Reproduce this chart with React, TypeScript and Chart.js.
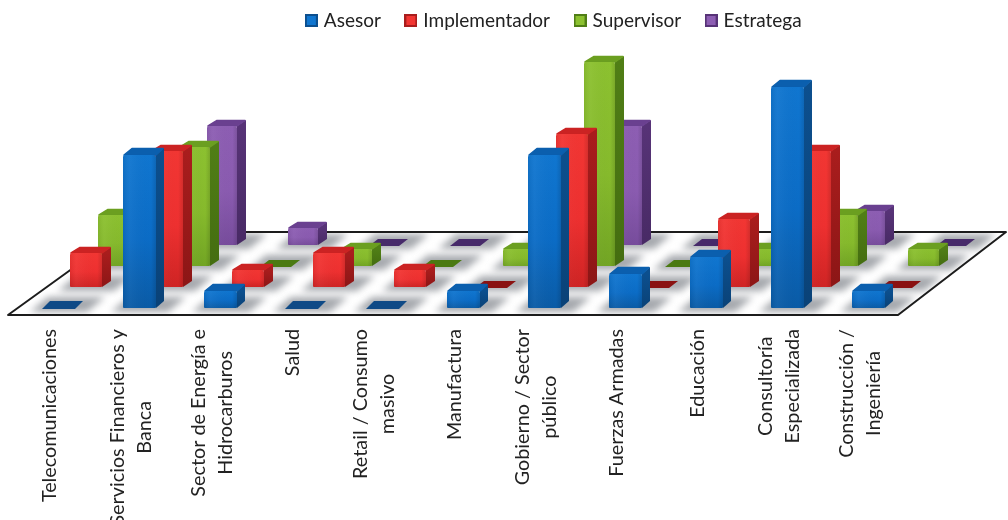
import React, { useEffect, useRef } from "react";
import { Chart, registerables } from "chart.js";

Chart.register(...registerables);

// Sector names, broken into the lines shown under the floor
const categories = [
  ["Telecomunicaciones"],
  ["Servicios Financieros y", "Banca"],
  ["Sector de Energía e", "Hidrocarburos"],
  ["Salud"],
  ["Retail / Consumo", "masivo"],
  ["Manufactura"],
  ["Gobierno / Sector", "público"],
  ["Fuerzas Armadas"],
  ["Educación"],
  ["Consultoría", "Especializada"],
  ["Construcción /", "Ingeniería"],
];

const seriesNames = ["Asesor", "Implementador", "Supervisor", "Estratega"];

const asesor = [0, 9, 1, 0, 0, 1, 9, 2, 3, 13, 1];
const implementador = [2, 8, 1, 2, 1, 0, 9, 0, 4, 8, 0];
const supervisor = [3, 7, 0, 1, 0, 1, 12, 0, 1, 3, 1];
const estratega = [0, 7, 1, 0, 0, 0, 7, 0, 0, 2, 0];

const seriesValues = [asesor, implementador, supervisor, estratega];

// Face shades for each series, front row first
const palette = [
  { light: "#1076d0", mid: "#0b6cc6", dark: "#0a5ba6", side: "#0c4f8e", sideDark: "#0a4277", top: "#0b5fae", flat: "#0f4a86" },
  { light: "#f23633", mid: "#ee3030", dark: "#cf2424", side: "#a91d1d", sideDark: "#8c1616", top: "#cb2323", flat: "#8a1212" },
  { light: "#8cc130", mid: "#86ba2c", dark: "#72a524", side: "#507e16", sideDark: "#446d10", top: "#6b9f20", flat: "#4b7a12" },
  { light: "#8d5eb3", mid: "#8a5bb0", dark: "#774c9c", side: "#573377", sideDark: "#482a65", top: "#6a4090", flat: "#472a6a" },
];

// Oblique projection used for the rows behind the front one
const ROW_DX = 28;
const ROW_DY = 21;
const BAR_DEPTH_X = 8;
const BAR_DEPTH_Y = 7;
const COLUMN_SHIFT = 8.5;

type Pt = [number, number];

function poly(ctx: CanvasRenderingContext2D, pts: Pt[]) {
  ctx.beginPath();
  pts.forEach(([x, y], i) => (i ? ctx.lineTo(x, y) : ctx.moveTo(x, y)));
  ctx.closePath();
}

function barGeometry(el: any, row: number) {
  const w = el.width - row;
  const x = el.x - el.width / 2 + COLUMN_SHIFT + row * ROW_DX;
  const base = el.base - row * ROW_DY;
  const top = el.y - row * ROW_DY;
  return { x, w, base, top };
}

const floorAndBars = {
  id: "floorAndBars",
  afterLayout(chart: any) {
    // The key sits right of the plot's centre, tight to the top edge
    const legend = chart.legend;
    const dx = 555 - (legend.left + legend.right) / 2;
    legend.left += dx;
    legend.right += dx;
    legend.top = -16;
  },
  beforeDraw(chart: any) {
    // Centre wrapped axis labels on their tick, in both directions
    const { ctx } = chart;
    const scale = chart.scales.x;
    const done = (floorAndBars as any).seen as WeakSet<object>;
    scale.getLabelItems(chart.chartArea).forEach((item: any) => {
      if (done.has(item)) return;
      done.add(item);
      const lines: string[] = Array.isArray(item.label) ? item.label : [item.label];
      ctx.save();
      ctx.font = item.font.string;
      const widest = Math.max(...lines.map((l) => ctx.measureText(l).width));
      ctx.restore();
      item.options.textAlign = "center";
      item.options.translation[1] += widest / 2;
      item.options.translation[0] -= ((lines.length - 1) * item.font.lineHeight) / 2;
    });
  },
  seen: new WeakSet<object>(),
  beforeDatasetsDraw(chart: any) {
    const { ctx, chartArea } = chart;
    const y0 = chart.scales.y.getPixelForValue(0);
    const { left, right } = chartArea;

    const fl: Pt = [left - 1.5, y0 + 7];
    const fr: Pt = [right - 2.5, y0 + 7];
    const br: Pt = [right + 105.5, y0 - 76];
    const bl: Pt = [left + 113.5, y0 - 76];

    // Floor with a soft shadow pooled round each column's footprint
    ctx.save();
    poly(ctx, [fl, fr, br, bl]);
    ctx.fillStyle = "#ffffff";
    ctx.fill();
    ctx.clip();
    ctx.filter = "blur(3.5px)";
    ctx.fillStyle = "rgba(120,125,132,0.66)";
    seriesValues.forEach((_, row) => {
      chart.getDatasetMeta(row).data.forEach((el: any) => {
        const g = barGeometry(el, row);
        const b = g.base + 4;
        const t = g.base - BAR_DEPTH_Y - 4;
        poly(ctx, [
          [g.x - 12, b],
          [g.x + g.w + 12, b],
          [g.x + g.w + 12 + (b - t) * 1.2, t],
          [g.x - 12 + (b - t) * 1.2, t],
        ]);
        ctx.fill();
      });
    });
    ctx.filter = "none";
    ctx.restore();

    // Edge of the floor
    ctx.save();
    ctx.lineWidth = 2;
    ctx.strokeStyle = "#1c1c1c";
    ctx.lineJoin = "round";
    poly(ctx, [fl, fr, br, bl]);
    ctx.stroke();
    ctx.restore();

    // Columns, painted from the back row forward
    for (let row = seriesValues.length - 1; row >= 0; row--) {
      const c = palette[row];
      chart.getDatasetMeta(row).data.forEach((el: any) => {
        const { x, w, base, top } = barGeometry(el, row);
        const dx = BAR_DEPTH_X + (row ? 1 : 0);
        const dy = BAR_DEPTH_Y - (row ? 1 : 0);
        ctx.save();
        ctx.lineJoin = "round";
        if (base - top < 1) {
          poly(ctx, [[x, base + 1], [x + w, base + 1], [x + w + dx, base - dy], [x + dx, base - dy]]);
          ctx.fillStyle = c.flat;
          ctx.fill();
          ctx.restore();
          return;
        }
        const side = ctx.createLinearGradient(0, top, 0, base);
        side.addColorStop(0, c.side);
        side.addColorStop(1, c.sideDark);
        poly(ctx, [[x + w, base], [x + w, top], [x + w + dx, top - dy], [x + w + dx, base - dy]]);
        ctx.fillStyle = side;
        ctx.fill();

        poly(ctx, [[x + 1, top], [x + w, top], [x + w + dx - 1, top - dy + 0.5], [x + dx + 1, top - dy + 0.5]]);
        ctx.fillStyle = c.top;
        ctx.strokeStyle = c.top;
        ctx.lineWidth = 1.5;
        ctx.fill();
        ctx.stroke();

        const face = ctx.createLinearGradient(0, top, 0, base);
        face.addColorStop(0, c.light);
        face.addColorStop(0.55, c.mid);
        face.addColorStop(1, c.dark);
        ctx.beginPath();
        ctx.roundRect(x, top, w, base - top, [2, 2, 1, 1]);
        ctx.fillStyle = face;
        ctx.fill();

        const edge = ctx.createLinearGradient(x, 0, x + w, 0);
        edge.addColorStop(0, "rgba(0,0,0,0.06)");
        edge.addColorStop(0.2, "rgba(255,255,255,0.04)");
        edge.addColorStop(0.85, "rgba(0,0,0,0)");
        edge.addColorStop(1, "rgba(0,0,0,0.12)");
        ctx.fillStyle = edge;
        ctx.fill();
        ctx.restore();
      });
    }
    return false;
  },
};

function legendSwatch(row: number): HTMLCanvasElement {
  const c = palette[row];
  const cv = document.createElement("canvas");
  cv.width = 13;
  cv.height = 13;
  const g = cv.getContext("2d")!;
  g.fillStyle = c.side;
  g.fillRect(0, 0, 13, 13);
  g.fillStyle = c.light;
  g.fillRect(2, 2, 9, 9);
  return cv;
}

export default function App() {
  const ref = useRef<HTMLCanvasElement | null>(null);

  useEffect(() => {
    document.body.style.margin = "0";
    const swatches = seriesNames.map((_, i) => legendSwatch(i));
    const chart = new Chart(ref.current!, {
      type: "bar",
      data: {
        labels: categories,
        datasets: seriesNames.map((name, i) => ({
          label: name,
          data: seriesValues[i],
          backgroundColor: palette[i].mid,
          categoryPercentage: 1,
          barPercentage: 33 / 81,
        })),
      },
      plugins: [floorAndBars],
      options: {
        responsive: false,
        animation: false,
        layout: { padding: { left: 9.5, right: 107.5, top: 14, bottom: 0 } },
        plugins: {
          tooltip: { enabled: false },
          title: { display: false },
          legend: {
            position: "top",
            labels: {
              usePointStyle: true,
              boxWidth: 6,
              padding: 27,
              color: "#222222",
              font: { family: "Lato", size: 19, lineHeight: 1 },
              generateLabels: () =>
                seriesNames.map((name, i) => ({
                  text: name,
                  pointStyle: swatches[i],
                  fillStyle: palette[i].mid,
                  strokeStyle: palette[i].mid,
                  lineWidth: 0,
                  hidden: false,
                  datasetIndex: i,
                  fontColor: "#222222",
                })),
            },
          },
        },
        scales: {
          x: {
            stacked: true,
            grid: { display: false },
            border: { display: false },
            afterFit(scale: any) {
              scale.height = 212;
              scale.paddingLeft = 0;
              scale.paddingRight = 0;
            },
            ticks: {
              autoSkip: false,
              minRotation: 90,
              maxRotation: 90,
              padding: 13,
              color: "#222222",
              font: { family: "Lato", size: 19.8, lineHeight: 1.37 },
            },
          },
          y: {
            display: false,
            min: 0,
            max: 14,
          },
        },
      },
    } as any);
    return () => chart.destroy();
  }, []);

  return <canvas ref={ref} width={1008} height={520} style={{ display: "block" }} />;
}
